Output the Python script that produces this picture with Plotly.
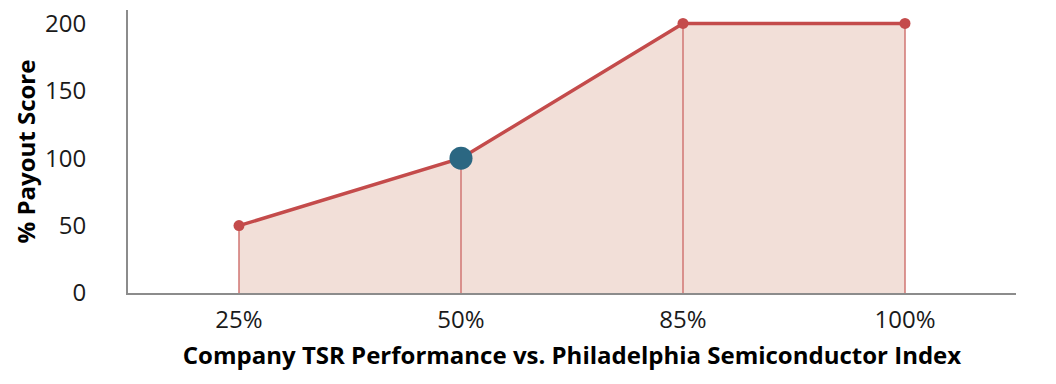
import plotly.graph_objects as go

categories = ["25%", "50%", "85%", "100%"]
payout = [50, 100, 200, 200]
highlight_idx = 1

xs = list(range(len(categories)))

drop_x, drop_y = [], []
for x, y in zip(xs, payout):
    drop_x += [x, x, None]
    drop_y += [0, y, None]

fig = go.Figure()
fig.add_trace(go.Scatter(x=xs, y=payout, mode="none", fill="tozeroy",
                         fillcolor="#f2dfd8", hoverinfo="skip"))
fig.add_trace(go.Scatter(x=drop_x, y=drop_y, mode="lines",
                         line=dict(color="#d07673", width=1.5), hoverinfo="skip"))
fig.add_trace(go.Scatter(x=xs, y=payout, mode="lines+markers",
                         line=dict(color="#c44b4b", width=3.5),
                         marker=dict(color="#c44b4b", size=11)))
fig.add_trace(go.Scatter(x=[xs[highlight_idx]], y=[payout[highlight_idx]], mode="markers",
                         marker=dict(color="#2b6782", size=23)))

font_family = "Open Sans"
fig.update_layout(
    width=1048, height=376,
    margin=dict(l=120, r=40, t=2, b=91),
    paper_bgcolor="white", plot_bgcolor="white",
    showlegend=False,
    font=dict(family=font_family, size=24, color="#111"),
    xaxis=dict(range=[-0.5, 3.5], tickvals=xs, ticktext=categories,
               automargin=False, ticklabeloverflow="allow",
               showgrid=False, zeroline=False, showline=True,
               linecolor="#8c8c8c", linewidth=2, ticks="",
               ticklabelstandoff=4,
               tickfont=dict(size=24, color="#1a1a1a"),
               title=dict(text="<b>Company TSR Performance vs. Philadelphia Semiconductor Index</b>",
                          font=dict(size=24, color="#000"), standoff=13)),
    yaxis=dict(range=[0, 210], tickvals=[0, 50, 100, 150, 200],
               automargin=False, ticklabeloverflow="allow",
               showgrid=False, zeroline=False, showline=True,
               linecolor="#8c8c8c", linewidth=2, ticks="",
               ticklabelstandoff=35,
               tickfont=dict(size=24, color="#1a1a1a"),
               title=dict(text="<b>% Payout Score</b>",
                          font=dict(size=24, color="#000"), standoff=3)),
)
fig.write_html("out.html")
